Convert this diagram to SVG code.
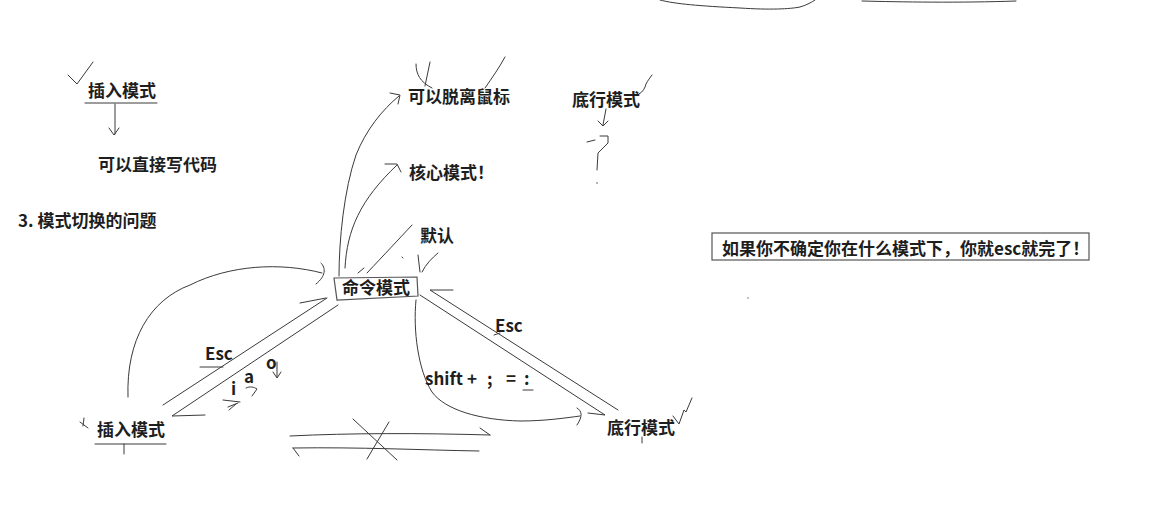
<svg xmlns="http://www.w3.org/2000/svg" width="1159" height="518" viewBox="0 0 1159 518">
<style>
.t{font-family:"Noto Sans CJK SC","Noto Sans",sans-serif;font-weight:bold;font-size:17px;fill:#1e1e1e}
.s{fill:none;stroke:#3a3a3a;stroke-width:1;stroke-linecap:round;stroke-linejoin:round}
.box{fill:none;stroke:#555;stroke-width:1.2}
</style>
<rect width="1159" height="518" fill="#fff"/>

<!-- stray marks -->
<g id="marks">
<path class="s" d="M660,0 C675,4 700,6 740,8 C770,10 790,9 800,7 C807,5 812,2 815,0"/>
<path class="s" d="M862,1 C900,2 960,3 1016,1"/>
<path class="s" d="M68,75 L77,84 L93,62"/>
<path class="s" d="M416,64 C416,74 420,82 432,88"/>
<path class="s" d="M430,62 C428,70 427,78 425,86"/>
<path class="s" d="M485,88 C492,78 499,68 505,57"/>
<path class="s" d="M639,94 C643,92 645,88 646,84 C648,80 650,78 652,75"/>
<path class="s" d="M587,142 L595,140"/>
<path class="s" d="M600,136 L608,136 L608,143 L598,153 L597,170"/>
<circle cx="597" cy="183" r="0.8" fill="#555"/>
<circle cx="748" cy="298" r="0.7" fill="#555"/>
<path class="s" d="M80,422 L88,428 M84,418 L83,426"/>
<path class="s" d="M124,444 L124,454"/>
<path class="s" d="M642,437 L642,443"/>
<path class="s" d="M673,416 L679,424 L684,410 L686,412 L692,398"/>
<path class="s" d="M223,400 L240,402 M228,407 L238,403 M229,410 L236,404"/>
<path class="s" d="M358,273 L364,268 M402,257 L403,258"/>
</g>

<!-- nodes -->
<g id="insert-top">
<text class="t" x="88" y="97">插入模式</text>
<path class="s" d="M85,103 L157,103"/>
</g>
<g id="write-code"><text class="t" x="98" y="171">可以直接写代码</text></g>
<g id="title"><text class="t" x="18" y="227">3. 模式切换的问题</text></g>
<g id="no-mouse"><text class="t" x="408" y="103">可以脱离鼠标</text></g>
<g id="core"><text class="t" x="409" y="179">核心模式！</text></g>
<g id="default"><text class="t" x="420" y="242">默认</text></g>
<g id="bottomline-top"><text class="t" x="572" y="106">底行模式</text></g>
<g id="command">
<path class="box" d="M334,278 L417,277 L418,296 L337,300 Z"/>
<text class="t" x="342" y="294">命令模式</text>
</g>
<g id="insert">
<text class="t" x="97" y="436">插入模式</text>
<path class="s" d="M95,444 L166,444"/>
</g>
<g id="bottomline"><text class="t" x="607" y="434">底行模式</text></g>
<g id="note">
<rect class="box" x="712" y="233" width="377" height="27"/>
<text class="t" x="722" y="255">如果你不确定你在什么模式下，你就esc就完了！</text>
</g>

<!-- connectors -->
<g id="connectors">
<path class="s" d="M115,104 L115,134 M109,128 L114,135 L119,128"/>
<path class="s" d="M606,109 L603,125 M598,121 L603,126 L608,121"/>
<path class="s" d="M339,276 C339,240 344,190 356,155 C366,130 382,110 399,96 M390,93 L400,95 L398,104"/>
<path class="s" d="M345,268 C347,230 360,200 397,165 M385,164 L397,164 L401,172"/>
<path class="s" d="M412,225 C398,240 384,255 367,273"/>
<path class="s" d="M418,255 L420,272 M438,253 C432,258 426,264 422,272"/>
<path class="s" d="M128,397 C126,340 150,300 190,285 C230,265 280,262 322,273 M321,263 C326,268 326,276 316,284"/>
<path class="s" d="M163,405 L327,298 M300,303 L326,298"/>
<path class="s" d="M338,305 L172,416 L205,415"/>
<path class="s" d="M277,362 L277,377 M273,372 L277,378 L281,372"/>
<path class="s" d="M246,388 C250,386 254,387 257,389 L252,396"/>
<path class="s" d="M618,410 L430,290 L453,290"/>
<path class="s" d="M420,295 L605,415 L588,413"/>
<path class="s" d="M416,300 C413,330 418,370 432,392 C445,410 480,420 520,421 C545,421 565,418 580,416 M577,408 C582,411 583,416 577,425"/>
<path class="s" d="M290,436 C350,433 420,433 490,435 M480,428 L490,435"/>
<path class="s" d="M293,448 C360,447 420,450 479,451 M293,448 L299,456"/>
<path class="s" d="M353,419 L397,460 M389,422 L367,459"/>
</g>

<!-- connector labels -->
<g id="labels">
<text class="t" x="205" y="360">Esc</text>
<path class="s" d="M200,367 L223,367"/>
<text class="t" x="231" y="395">i</text>
<text class="t" x="244" y="383">a</text>
<text class="t" x="266" y="369">o</text>
<text class="t" x="495" y="332">Esc</text>
<path class="s" d="M494,335 L500,333"/>
<text class="t" y="385"><tspan x="425">shift</tspan><tspan x="467">+</tspan><tspan x="487">;</tspan><tspan x="506">=</tspan><tspan x="524">:</tspan></text>
<path class="s" d="M523,390 L533,390"/>
</g>
</svg>
